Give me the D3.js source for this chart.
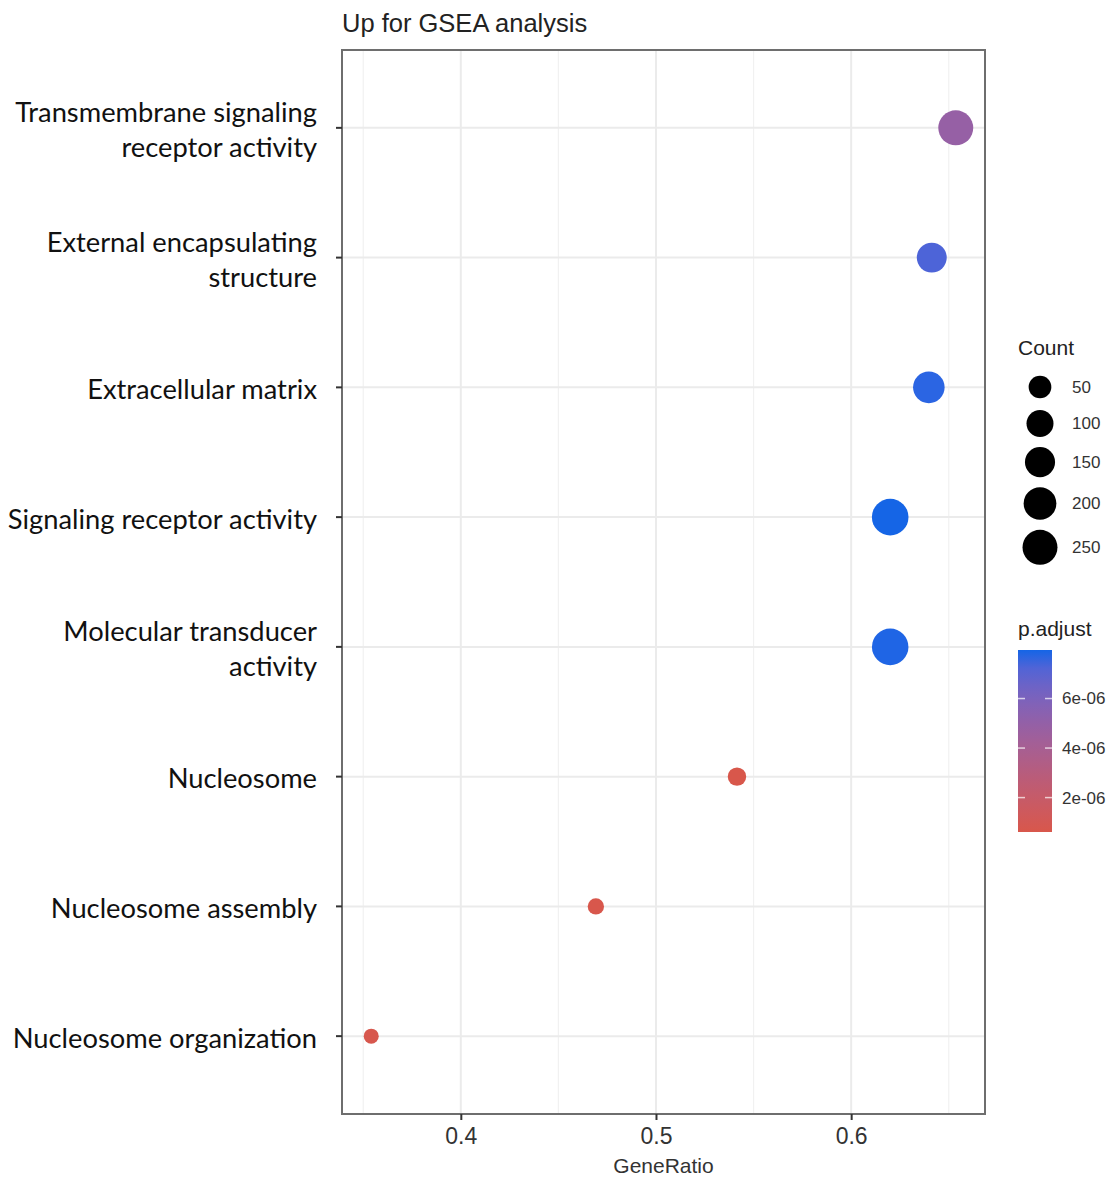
<!DOCTYPE html>
<html>
<head>
<meta charset="utf-8">
<script src="https://cdn.jsdelivr.net/npm/d3@7"></script>
<style>
  body { margin: 0; background: #fff; }
  text { font-family: "Liberation Sans", Arial, sans-serif; }
</style>
</head>
<body>
<svg id="svg" width="1111" height="1177"></svg>
<script>
// data, top row first
const terms = [
  "Transmembrane signaling\nreceptor activity",
  "External encapsulating\nstructure",
  "Extracellular matrix",
  "Signaling receptor activity",
  "Molecular transducer\nactivity",
  "Nucleosome",
  "Nucleosome assembly",
  "Nucleosome organization"
];
const geneRatio = [0.6536, 0.6413, 0.6398, 0.6200, 0.6200, 0.5415, 0.4692, 0.3541];
const counts = [250, 147, 177, 290, 288, 22, 16, 15];
const pAdjust = [4.9e-06, 7.3e-06, 7.8e-06, 7.96e-06, 7.9e-06, 6.1e-07, 6.5e-07, 7.0e-07];

const xTicks = [0.4, 0.5, 0.6];
const xMinor = [0.35, 0.45, 0.55, 0.65];
const countBreaks = [50, 100, 150, 200, 250];
const pBreaks = [2e-06, 4e-06, 6e-06];

const svg = d3.select("#svg");
const panel = { left: 342, top: 50, right: 985, bottom: 1114 };

// scales
const ext = d3.extent(geneRatio), pad = (ext[1] - ext[0]) * 0.05;
const x = d3.scaleLinear().domain([ext[0] - pad, ext[1] + pad]).range([panel.left, panel.right]);
const y = d3.scalePoint().domain(d3.range(terms.length)).range([panel.top, panel.bottom]).padding(0.6);

const unit = d3.scaleLinear().domain(d3.extent(counts)).range([0, 1]);
const rad = d3.scaleLinear().domain([0, 1]).range([7.5, 18.3]);
const r = c => rad(Math.sqrt(Math.max(0, unit(c))));

const color = d3.scaleLinear().domain(d3.extent(pAdjust))
  .range(["#d8574b", "#1565e6"]).interpolate(d3.interpolateLab);

// grid
const grid = svg.append("g");
grid.selectAll(".minor").data(xMinor).enter().append("line")
  .attr("x1", d => x(d)).attr("x2", d => x(d))
  .attr("y1", panel.top).attr("y2", panel.bottom)
  .attr("stroke", "#f1f1f1").attr("stroke-width", 1.2);
grid.selectAll(".major").data(xTicks).enter().append("line")
  .attr("x1", d => x(d)).attr("x2", d => x(d))
  .attr("y1", panel.top).attr("y2", panel.bottom)
  .attr("stroke", "#ebebeb").attr("stroke-width", 2);
grid.selectAll(".row").data(d3.range(terms.length)).enter().append("line")
  .attr("x1", panel.left).attr("x2", panel.right)
  .attr("y1", d => y(d)).attr("y2", d => y(d))
  .attr("stroke", "#ebebeb").attr("stroke-width", 2);

// points
svg.append("g").selectAll("circle").data(terms).enter().append("circle")
  .attr("cx", (d, i) => x(geneRatio[i]))
  .attr("cy", (d, i) => y(i))
  .attr("r", (d, i) => r(counts[i]))
  .attr("fill", (d, i) => color(pAdjust[i]));

// border
svg.append("rect")
  .attr("x", panel.left).attr("y", panel.top)
  .attr("width", panel.right - panel.left).attr("height", panel.bottom - panel.top)
  .attr("fill", "none").attr("stroke", "#6e6e6e").attr("stroke-width", 2);

// x axis
const xAxis = svg.append("g").attr("transform", "translate(0," + panel.bottom + ")")
  .call(d3.axisBottom(x).tickValues(xTicks).tickSize(6).tickPadding(8).tickFormat(d3.format(".1f")));
xAxis.select(".domain").remove();
xAxis.selectAll("line").attr("stroke", "#333").attr("stroke-width", 2);
xAxis.selectAll("text").attr("font-size", 23).attr("fill", "#333")
  .attr("font-family", "'Liberation Sans', Arial, sans-serif");

svg.append("text").attr("x", (panel.left + panel.right) / 2).attr("y", 1166)
  .attr("dy", "0.35em")
  .attr("text-anchor", "middle").attr("font-size", 21).attr("fill", "#333").text("GeneRatio");

// y axis ticks + labels
const yAxis = svg.append("g");
yAxis.selectAll("line").data(d3.range(terms.length)).enter().append("line")
  .attr("x1", panel.left - 6).attr("x2", panel.left)
  .attr("y1", d => y(d)).attr("y2", d => y(d))
  .attr("stroke", "#333").attr("stroke-width", 2);

const labels = yAxis.selectAll("text").data(terms).enter().append("text")
  .attr("text-anchor", "end")
  .style("font-family", "Lato, 'Open Sans', sans-serif")
  .attr("font-size", 24).attr("fill", "#111");
labels.each(function (d, i) {
  const lines = d.split("\n");
  const t = d3.select(this);
  lines.forEach((ln, k) => {
    t.append("tspan").attr("x", 317)
      .attr("y", y(i) + 2 + (k - (lines.length - 1) / 2) * 35)
      .attr("dy", "0.35em").text(ln);
  });
});
// fit label size to the reference width of the widest line
const probe = yAxis.append("text").style("font-family", "Lato, 'Open Sans', sans-serif")
  .attr("font-size", 24).text("Transmembrane signaling");
const fs = 24 * 302 / probe.node().getComputedTextLength();
probe.remove();
labels.attr("font-size", fs);

// title
svg.append("text").attr("x", panel.left).attr("y", 32)
  .attr("font-size", 25.5).attr("fill", "#222").text("Up for GSEA analysis");

// Count legend
const lg = svg.append("g");
lg.append("text").attr("x", 1018).attr("y", 355).attr("font-size", 21).attr("fill", "#222").text("Count");
let cy = 387, prevH = null;
countBreaks.forEach(c => {
  const h = Math.max(36, 2 * r(c) + 10);
  if (prevH !== null) cy += (prevH + h) / 2;
  prevH = h;
  lg.append("circle").attr("cx", 1040).attr("cy", cy).attr("r", r(c)).attr("fill", "#000");
  lg.append("text").attr("x", 1072).attr("y", cy).attr("dy", "0.35em")
    .attr("font-size", 17).attr("fill", "#333").text(c);
});

// p.adjust colourbar
const pExt = d3.extent(pAdjust);
const barY = d3.scaleLinear().domain(pExt).range([832, 650]);
const grad = svg.append("defs").append("linearGradient").attr("id", "pgrad")
  .attr("x1", 0).attr("x2", 0).attr("y1", 1).attr("y2", 0);
d3.range(0, 1.0001, 0.1).forEach(t => {
  grad.append("stop").attr("offset", t)
    .attr("stop-color", color(pExt[0] + t * (pExt[1] - pExt[0])));
});
lg.append("text").attr("x", 1018).attr("y", 636).attr("font-size", 21).attr("fill", "#222").text("p.adjust");
lg.append("rect").attr("x", 1018).attr("y", 650).attr("width", 34).attr("height", 182).attr("fill", "url(#pgrad)");
pBreaks.forEach(p => {
  lg.append("line").attr("x1", 1018).attr("x2", 1025).attr("y1", barY(p)).attr("y2", barY(p))
    .attr("stroke", "#fff").attr("stroke-opacity", 0.7).attr("stroke-width", 1.5);
  lg.append("line").attr("x1", 1045).attr("x2", 1052).attr("y1", barY(p)).attr("y2", barY(p))
    .attr("stroke", "#fff").attr("stroke-opacity", 0.7).attr("stroke-width", 1.5);
  lg.append("text").attr("x", 1062).attr("y", barY(p)).attr("dy", "0.35em")
    .attr("font-size", 17).attr("fill", "#333").text(d3.format(".0e")(p).replace("e-6", "e-06"));
});
</script>
</body>
</html>
